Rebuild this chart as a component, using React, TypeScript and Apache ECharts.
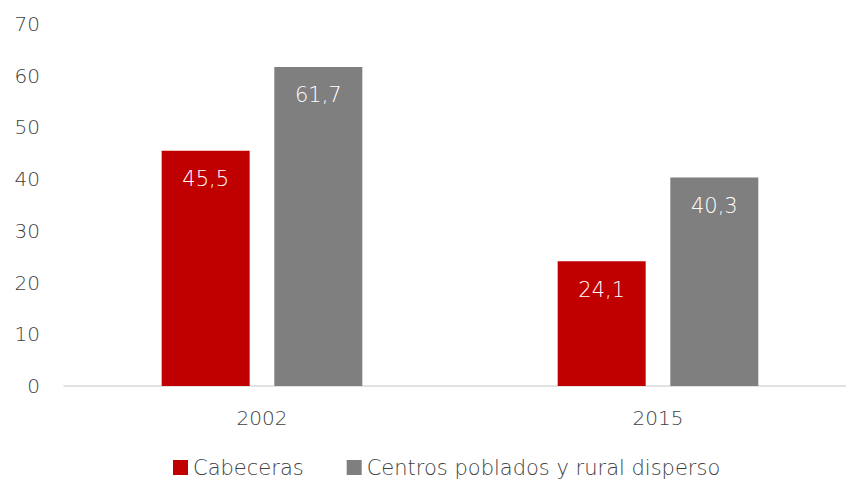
import React, { useEffect, useRef } from "react";
import * as echarts from "echarts";

const categories = ["2002", "2015"];
const cabeceras = [45.5, 24.1];
const centros = [61.7, 40.3];
const seriesNames = ["Cabeceras", "Centros poblados y rural disperso"];

export default function App() {
  const ref = useRef<HTMLDivElement>(null);
  useEffect(() => {
    document.body.style.margin = "0";
    const chart = echarts.init(ref.current!, null, { renderer: "svg" });
    const font = "'DejaVu Sans', sans-serif";
    const fw = 200 as any;
    const label = {
      show: true,
      position: "insideTop" as const,
      distance: 18,
      color: "#ffffff",
      fontSize: 21,
      fontFamily: font,
      fontWeight: fw,
      formatter: (p: any) => String(p.value).replace(".", ","),
    };
    chart.setOption({
      animation: false,
      grid: { left: 64, right: 0, top: 24, bottom: 93, containLabel: false },
      legend: {
        bottom: 1,
        left: 173,
        padding: 0,
        itemWidth: 15,
        itemHeight: 15,
        itemGap: 43,
        icon: "rect",
        textStyle: { fontSize: 21, color: "#404040", fontFamily: font, fontWeight: fw },
        data: seriesNames,
      },
      xAxis: {
        type: "category",
        data: categories,
        axisLine: { lineStyle: { color: "#d9d9d9", width: 1.5 } },
        axisTick: { show: false },
        axisLabel: { fontSize: 20, color: "#404040", fontFamily: font, fontWeight: fw, margin: 22 },
      },
      yAxis: {
        type: "value",
        min: 0,
        max: 70,
        interval: 10,
        splitLine: { show: false },
        axisLabel: { fontSize: 20, color: "#404040", fontFamily: font, fontWeight: fw, margin: 24 },
      },
      series: [
        {
          name: seriesNames[0],
          type: "bar",
          data: cabeceras,
          barWidth: 88,
          barGap: "28%",
          itemStyle: { color: "#c00000" },
          label,
        },
        {
          name: seriesNames[1],
          type: "bar",
          data: centros,
          barWidth: 88,
          itemStyle: { color: "#7f7f7f" },
          label,
        },
      ],
    });
    return () => chart.dispose();
  }, []);
  return (
    <div style={{ width: 846, height: 479, overflow: "hidden" }}>
      <div ref={ref} style={{ width: 856, height: 479 }} />
    </div>
  );
}
